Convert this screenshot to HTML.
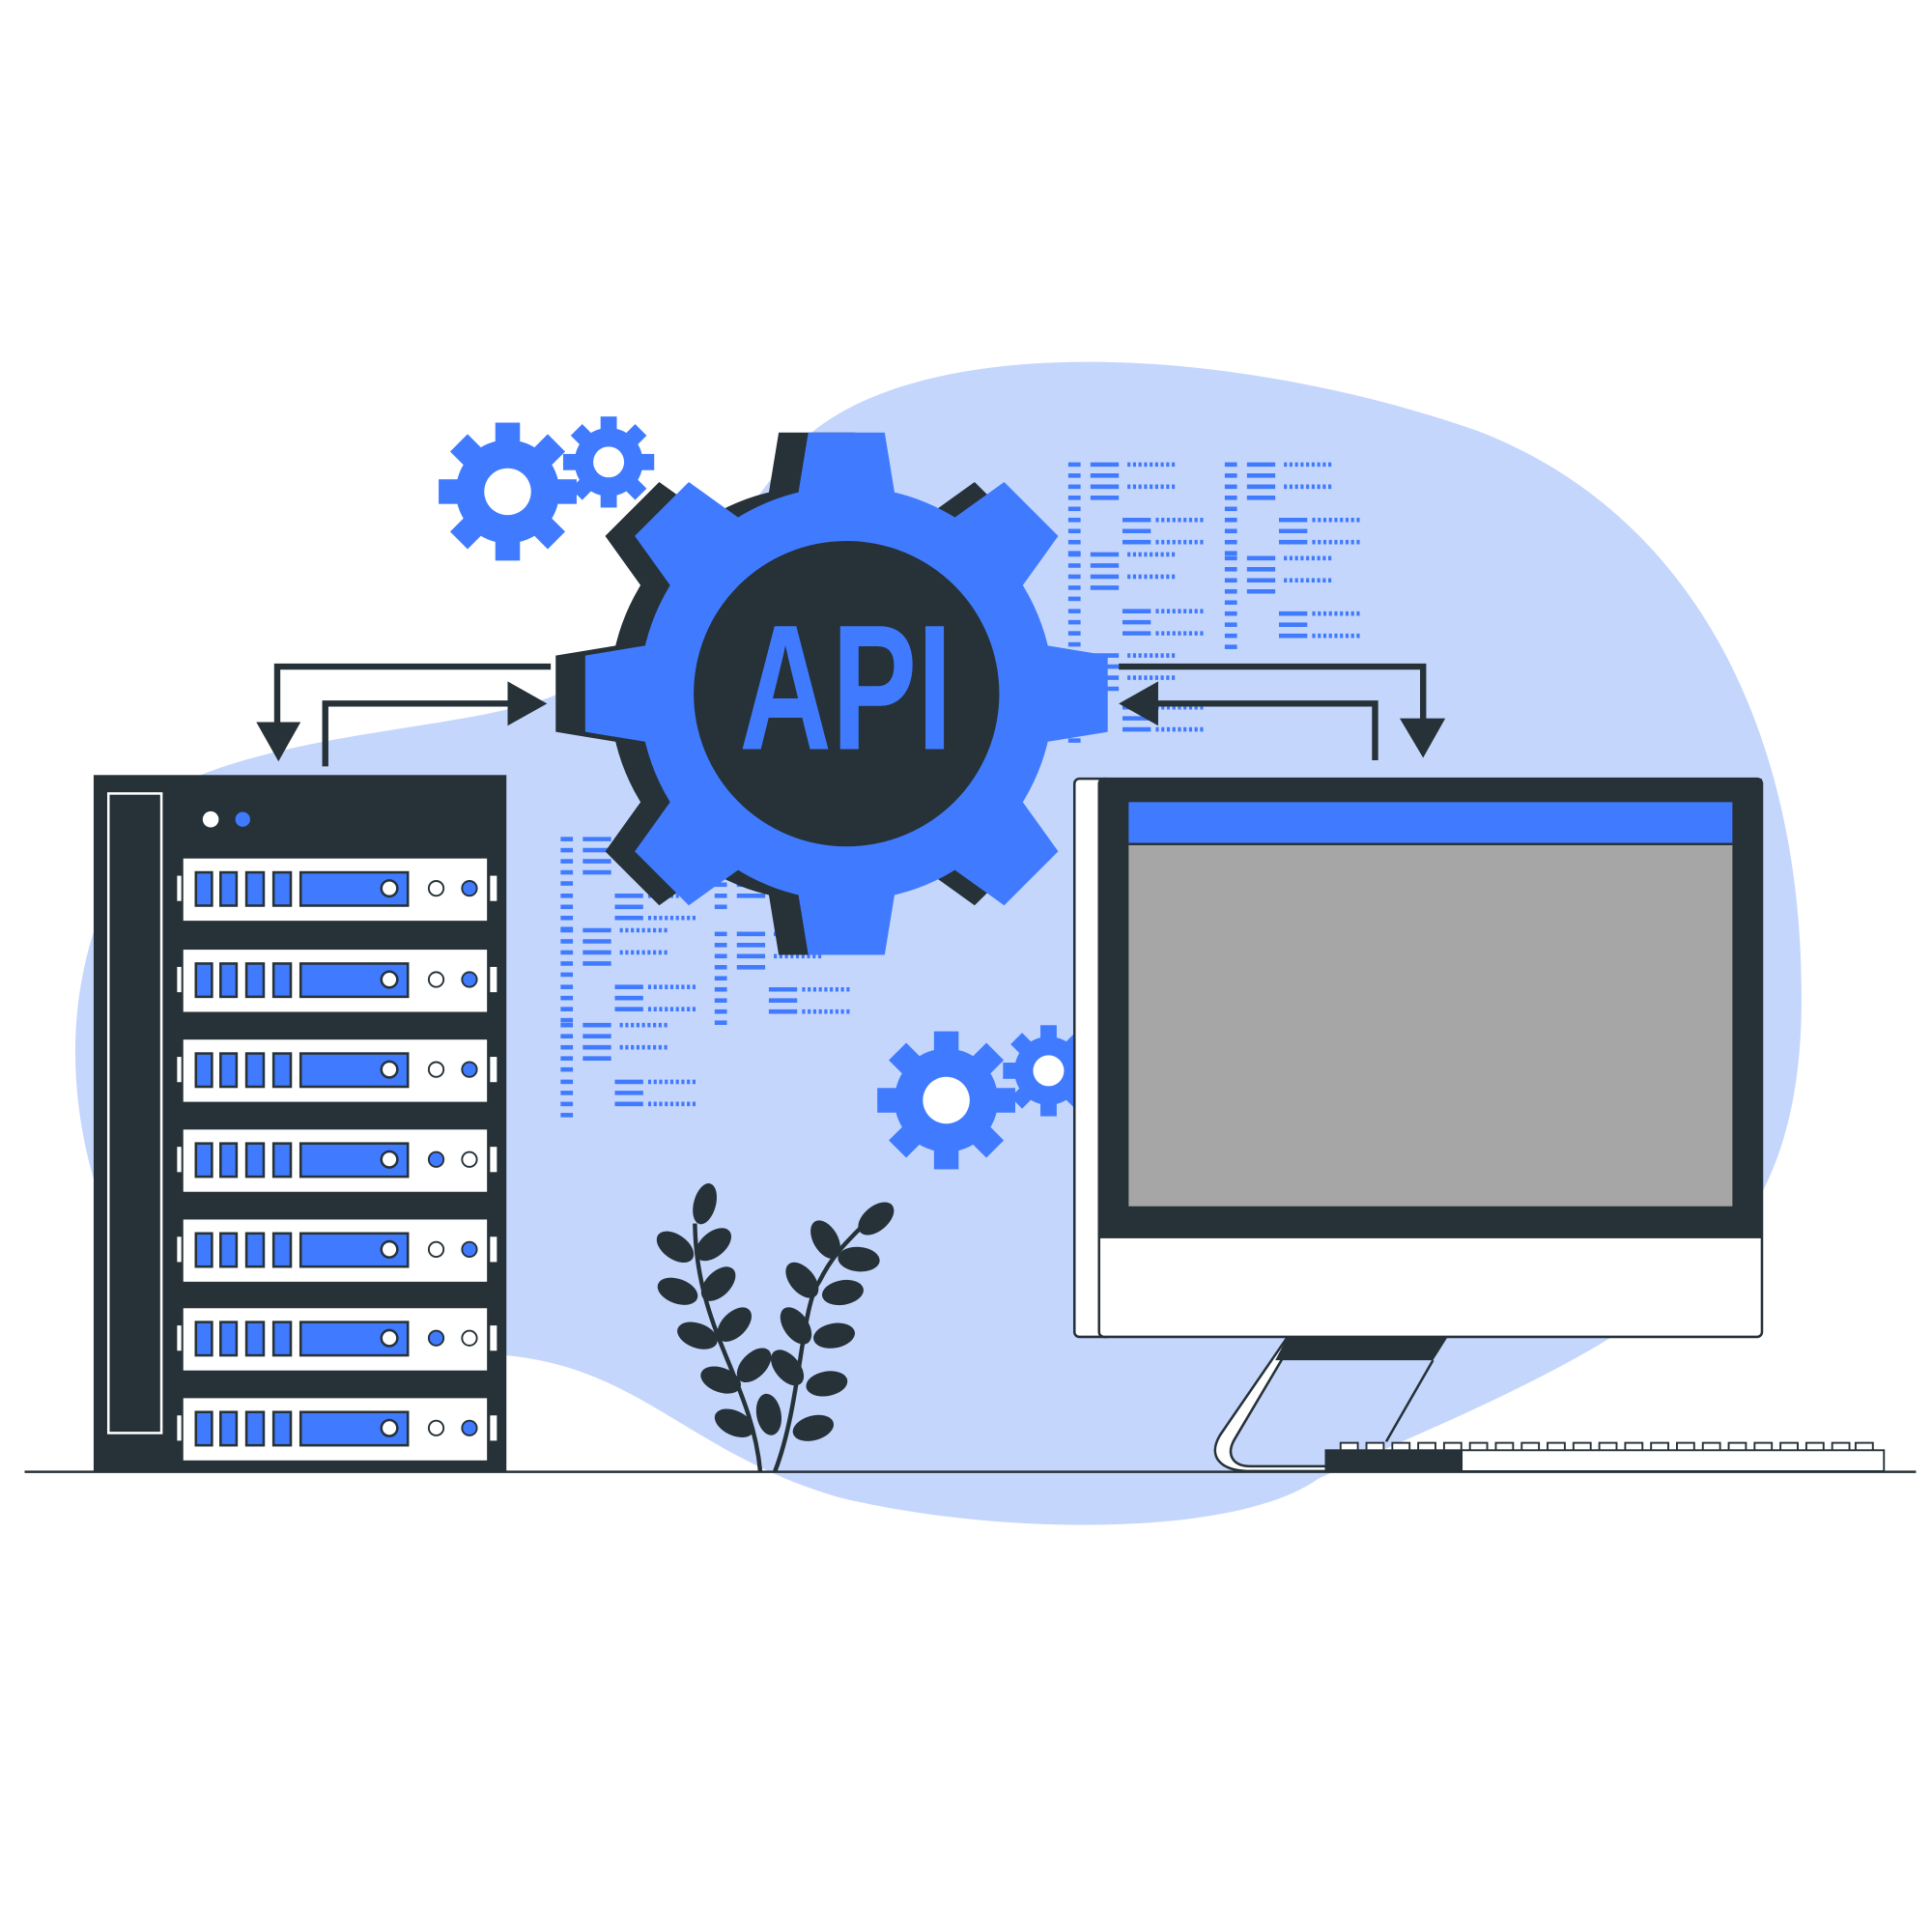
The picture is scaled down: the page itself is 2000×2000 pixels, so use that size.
<!DOCTYPE html>
<html><head><meta charset="utf-8"><style>html,body{margin:0;padding:0;background:#fff}svg{display:block}</style></head>
<body>
<svg width="2000" height="2000" viewBox="0 0 1568 1568" xmlns="http://www.w3.org/2000/svg">
<defs>
<g id="c1" stroke="#407BFF" stroke-width="3.6">
<line x1="0" y1="0" x2="10" y2="0"/><line x1="18" y1="0" x2="41" y2="0"/><line x1="48" y1="0" x2="88" y2="0" stroke-dasharray="2.5 2"/>
<line x1="0" y1="9" x2="10" y2="9"/><line x1="18" y1="9" x2="41" y2="9"/>
<line x1="0" y1="18" x2="10" y2="18"/><line x1="18" y1="18" x2="41" y2="18"/><line x1="48" y1="18" x2="88" y2="18" stroke-dasharray="2.5 2"/>
<line x1="0" y1="27" x2="10" y2="27"/><line x1="18" y1="27" x2="41" y2="27"/>
<line x1="0" y1="36" x2="10" y2="36"/>
</g>
<g id="c2" stroke="#407BFF" stroke-width="3.6">
<line x1="0" y1="0" x2="10" y2="0"/><line x1="44" y1="0" x2="67" y2="0"/><line x1="71" y1="0" x2="111" y2="0" stroke-dasharray="2.5 2"/>
<line x1="0" y1="9" x2="10" y2="9"/><line x1="44" y1="9" x2="67" y2="9"/>
<line x1="0" y1="18" x2="10" y2="18"/><line x1="44" y1="18" x2="67" y2="18"/><line x1="71" y1="18" x2="111" y2="18" stroke-dasharray="2.5 2"/>
<line x1="0" y1="27" x2="10" y2="27"/>
</g>
<g id="sg">
<circle r="42"/>
<g><rect x="-10" y="-56" width="20" height="30"/><rect x="-10" y="-56" width="20" height="30" transform="rotate(45)"/><rect x="-10" y="-56" width="20" height="30" transform="rotate(90)"/><rect x="-10" y="-56" width="20" height="30" transform="rotate(135)"/><rect x="-10" y="-56" width="20" height="30" transform="rotate(180)"/><rect x="-10" y="-56" width="20" height="30" transform="rotate(225)"/><rect x="-10" y="-56" width="20" height="30" transform="rotate(270)"/><rect x="-10" y="-56" width="20" height="30" transform="rotate(315)"/></g>
</g>
<polygon id="tooth" points="-42,-145 42,-145 31,-212 -31,-212"/>
<g id="mg">
<circle r="168"/>
<use href="#tooth"/><use href="#tooth" transform="rotate(45)"/><use href="#tooth" transform="rotate(90)"/><use href="#tooth" transform="rotate(135)"/><use href="#tooth" transform="rotate(180)"/><use href="#tooth" transform="rotate(225)"/><use href="#tooth" transform="rotate(270)"/><use href="#tooth" transform="rotate(315)"/>
</g>
<g id="unit">
<rect x="143" y="14" width="5" height="22" fill="#fff"/><rect x="397" y="14" width="7" height="22" fill="#fff"/>
<rect x="148" y="0" width="248" height="52" fill="#fff"/>
<g fill="#407BFF" stroke="#263238" stroke-width="2">
<rect x="159" y="12" width="13" height="27"/><rect x="179" y="12" width="13" height="27"/><rect x="200" y="12" width="14" height="27"/><rect x="222" y="12" width="14" height="27"/><rect x="244" y="12" width="87" height="27"/></g>
<circle cx="316" cy="25" r="6.5" fill="#fff" stroke="#263238" stroke-width="2"/>
</g>
</defs>
<rect width="1568" height="1568" fill="#fff"/>
<path fill="#C5D6FD" d="M160,630 C260,590 400,590 460,560 C560,510 590,420 660,350 C760,270 1000,280 1200,350 C1380,420 1460,600 1462,800 C1464,900 1440,960 1410,1000 C1340,1090 1180,1150 1070,1200 C1000,1250 800,1245 680,1215 C560,1180 520,1110 410,1100 L150,1100 C70,1000 30,850 90,720 Z"/>
<use href="#c1" x="867" y="377"/><use href="#c2" x="867" y="422"/><use href="#c1" x="867" y="450"/><use href="#c2" x="867" y="496"/><use href="#c1" x="867" y="532"/><use href="#c2" x="867" y="574"/>
<use href="#c1" x="994" y="377"/><use href="#c2" x="994" y="422"/><use href="#c1" x="994" y="453"/><use href="#c2" x="994" y="498"/>
<use href="#c1" x="455" y="681"/><use href="#c2" x="455" y="727"/><use href="#c1" x="455" y="755"/><use href="#c2" x="455" y="801"/><use href="#c1" x="455" y="832"/><use href="#c2" x="455" y="878"/>
<use href="#c1" x="580" y="700"/><use href="#c1" x="580" y="758"/><use href="#c2" x="580" y="803"/>
<g fill="#407BFF">
<g transform="translate(412,399)"><use href="#sg"/><circle r="19" fill="#fff"/></g>
<g transform="translate(494,375) scale(0.66)"><use href="#sg"/><circle r="19" fill="#fff"/></g>
<g transform="translate(768,893)"><use href="#sg"/><circle r="19" fill="#fff"/></g>
<g transform="translate(851,869) scale(0.66)"><use href="#sg"/><circle r="19" fill="#fff"/></g>
</g>
<g stroke="#263238" stroke-width="5" fill="none">
<path d="M447,541 H225 V590"/><path d="M264,622 V571 H414"/>
<path d="M908,541 H1155 V585"/><path d="M1116,617 V571 H938"/>
</g>
<g fill="#263238">
<path d="M208,586 L244,586 L226,618 Z"/><path d="M412,553 L412,589 L444,571 Z"/>
<path d="M1136,583 L1173,583 L1155,615 Z"/><path d="M940,553 L940,589 L908,571 Z"/>
</g>
<g transform="translate(663,563)" fill="#263238"><use href="#mg"/></g>
<g transform="translate(687,563)" fill="#407BFF"><use href="#mg"/></g>
<circle cx="687" cy="563" r="124" fill="#263238"/>
<text x="600" y="608" font-family="'Liberation Sans Narrow','Liberation Sans',sans-serif" font-weight="bold" font-size="145" fill="#407BFF" textLength="173" lengthAdjust="spacingAndGlyphs">API</text>
<rect x="76" y="629" width="335" height="565" fill="#263238"/>
<rect x="88" y="644" width="43" height="519" fill="none" stroke="#fff" stroke-width="2"/>
<circle cx="171" cy="665" r="6.5" fill="#fff"/><circle cx="197" cy="665" r="6" fill="#407BFF"/>
<g stroke="#263238" stroke-width="1.5">
<g transform="translate(0,696)"><use href="#unit"/><circle cx="354" cy="25" r="6" fill="#fff"/><circle cx="381" cy="25" r="6" fill="#407BFF"/></g>
<g transform="translate(0,770)"><use href="#unit"/><circle cx="354" cy="25" r="6" fill="#fff"/><circle cx="381" cy="25" r="6" fill="#407BFF"/></g>
<g transform="translate(0,843)"><use href="#unit"/><circle cx="354" cy="25" r="6" fill="#fff"/><circle cx="381" cy="25" r="6" fill="#407BFF"/></g>
<g transform="translate(0,916)"><use href="#unit"/><circle cx="354" cy="25" r="6" fill="#407BFF"/><circle cx="381" cy="25" r="6" fill="#fff"/></g>
<g transform="translate(0,989)"><use href="#unit"/><circle cx="354" cy="25" r="6" fill="#fff"/><circle cx="381" cy="25" r="6" fill="#407BFF"/></g>
<g transform="translate(0,1061)"><use href="#unit"/><circle cx="354" cy="25" r="6" fill="#407BFF"/><circle cx="381" cy="25" r="6" fill="#fff"/></g>
<g transform="translate(0,1134)"><use href="#unit"/><circle cx="354" cy="25" r="6" fill="#fff"/><circle cx="381" cy="25" r="6" fill="#407BFF"/></g>
</g>
<g stroke="#263238" stroke-width="2">
<path d="M1045,1085 L990,1165 C980,1182 990,1194 1015,1194 L1090,1194 L1090,1190 L1015,1190 C1000,1190 995,1180 1002,1168 L1040,1104 Z" fill="#fff"/>
<path d="M1163,1104 L1125,1170" fill="none"/>
<rect x="872" y="632" width="30" height="453" rx="4" fill="#fff"/>
<rect x="892" y="632" width="538" height="453" rx="4" fill="#fff"/>
</g>
<rect x="892" y="632" width="538" height="373" fill="#263238"/>
<rect x="916" y="651" width="490" height="34" fill="#407BFF"/>
<rect x="916" y="685" width="490" height="294" fill="#A6A6A6"/>
<line x1="916" y1="685" x2="1406" y2="685" stroke="#263238" stroke-width="2"/>
<path d="M1045,1085 L1175,1085 L1163,1104 L1035,1104 Z" fill="#263238"/>
<g fill="#fff" stroke="#263238" stroke-width="1.5">
<rect x="1088" y="1171" width="14" height="7"/><rect x="1109" y="1171" width="14" height="7"/><rect x="1130" y="1171" width="14" height="7"/><rect x="1151" y="1171" width="14" height="7"/><rect x="1172" y="1171" width="14" height="7"/><rect x="1193" y="1171" width="14" height="7"/><rect x="1214" y="1171" width="14" height="7"/><rect x="1235" y="1171" width="14" height="7"/><rect x="1256" y="1171" width="14" height="7"/><rect x="1277" y="1171" width="14" height="7"/><rect x="1298" y="1171" width="14" height="7"/><rect x="1319" y="1171" width="14" height="7"/><rect x="1340" y="1171" width="14" height="7"/><rect x="1361" y="1171" width="14" height="7"/><rect x="1382" y="1171" width="14" height="7"/><rect x="1403" y="1171" width="14" height="7"/><rect x="1424" y="1171" width="14" height="7"/><rect x="1445" y="1171" width="14" height="7"/><rect x="1466" y="1171" width="14" height="7"/><rect x="1487" y="1171" width="14" height="7"/><rect x="1506" y="1171" width="14" height="7"/>
<rect x="1076" y="1177" width="453" height="17"/>
</g>
<rect x="1076" y="1177" width="111" height="17" fill="#263238"/>
<g fill="#263238">
<path d="M617,1194 C610,1120 565,1080 564,993" stroke="#263238" stroke-width="3.5" fill="none"/>
<path d="M629,1194 C650,1140 650,1060 665,1040 C675,1020 685,1010 700,995" stroke="#263238" stroke-width="3.5" fill="none"/>
<ellipse cx="572" cy="977" rx="9" ry="17" transform="rotate(15 572 977)"/>
<ellipse cx="548" cy="1012" rx="17" ry="10" transform="rotate(35 548 1012)"/><ellipse cx="579" cy="1010" rx="17" ry="10" transform="rotate(-40 579 1010)"/>
<ellipse cx="550" cy="1048" rx="17" ry="10" transform="rotate(20 550 1048)"/><ellipse cx="583" cy="1042" rx="17" ry="10" transform="rotate(-45 583 1042)"/>
<ellipse cx="566" cy="1084" rx="17" ry="10" transform="rotate(20 566 1084)"/><ellipse cx="596" cy="1075" rx="17" ry="10" transform="rotate(-45 596 1075)"/>
<ellipse cx="585" cy="1120" rx="17" ry="10" transform="rotate(20 585 1120)"/><ellipse cx="612" cy="1108" rx="17" ry="10" transform="rotate(-45 612 1108)"/>
<ellipse cx="596" cy="1155" rx="17" ry="10" transform="rotate(25 596 1155)"/><ellipse cx="624" cy="1148" rx="10" ry="17" transform="rotate(-10 624 1148)"/>
<ellipse cx="711" cy="989" rx="17" ry="10" transform="rotate(-40 711 989)"/>
<ellipse cx="670" cy="1006" rx="10" ry="17" transform="rotate(-30 670 1006)"/><ellipse cx="697" cy="1022" rx="17" ry="10" transform="rotate(5 697 1022)"/>
<ellipse cx="651" cy="1039" rx="10" ry="17" transform="rotate(-40 651 1039)"/><ellipse cx="684" cy="1049" rx="17" ry="10" transform="rotate(-10 684 1049)"/>
<ellipse cx="646" cy="1076" rx="10" ry="17" transform="rotate(-35 646 1076)"/><ellipse cx="677" cy="1084" rx="17" ry="10" transform="rotate(-10 677 1084)"/>
<ellipse cx="639" cy="1110" rx="10" ry="17" transform="rotate(-40 639 1110)"/><ellipse cx="671" cy="1123" rx="17" ry="10" transform="rotate(-10 671 1123)"/>
<ellipse cx="660" cy="1159" rx="17" ry="10" transform="rotate(-15 660 1159)"/>
</g>
<line x1="20" y1="1194.5" x2="1555" y2="1194.5" stroke="#263238" stroke-width="2"/>
</svg>
</body></html>
